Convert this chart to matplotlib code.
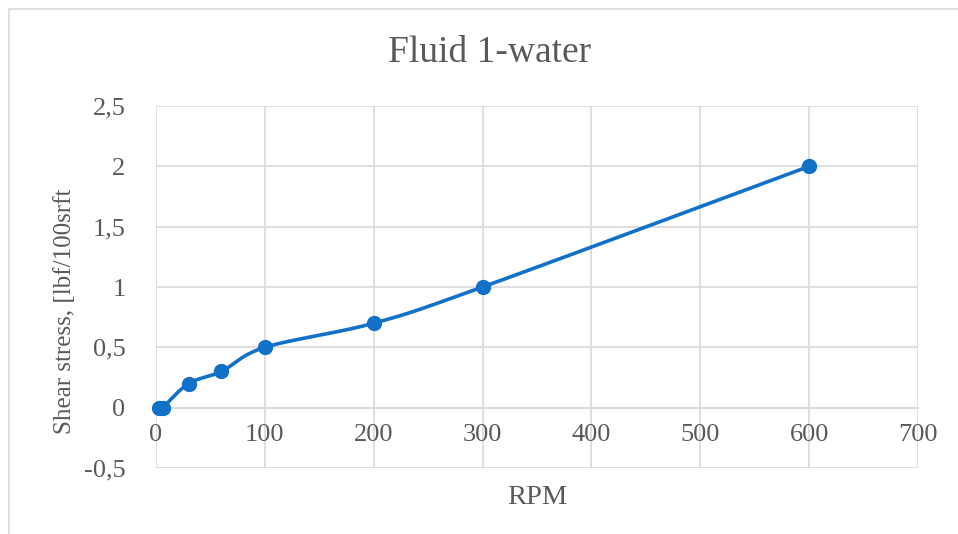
import numpy as np
import matplotlib
matplotlib.use("Agg")
import matplotlib.pyplot as plt
from matplotlib.patches import Rectangle
from matplotlib.ticker import FuncFormatter, MultipleLocator

# ─── DATA ─────────────────────────────────────────────────────────────────────

rpm          = [3, 6, 30, 60, 100, 200, 300, 600]
shear_stress = [0, 0, 0.2, 0.3, 0.5, 0.7, 1.0, 2.0]

TITLE  = "Fluid 1-water"
XLABEL = "RPM"
YLABEL = "Shear stress, [lbf/100srft"

# ─── STYLE ────────────────────────────────────────────────────────────────────

BLUE  = "#1170c8"
TEXT  = "#595959"
GRID  = "#d9d9d9"
plt.rcParams["font.family"] = ["Liberation Serif", "DejaVu Serif"]


def smooth_path(ax, xs, ys, n=40):
    """Excel-like smoothed line (Catmull-Rom in screen space)."""
    trans = ax.transData
    pts = trans.transform(np.column_stack([xs, ys]))
    out = [pts[0]]
    for i in range(len(pts) - 1):
        p0 = pts[i - 1] if i > 0 else pts[i]
        p1, p2 = pts[i], pts[i + 1]
        p3 = pts[i + 2] if i + 2 < len(pts) else pts[i + 1]
        c1 = p1 + (p2 - p0) / 6.0
        c2 = p2 - (p3 - p1) / 6.0
        t = np.linspace(0, 1, n)[1:, None]
        seg = ((1 - t) ** 3) * p1 + 3 * ((1 - t) ** 2) * t * c1 \
            + 3 * (1 - t) * t ** 2 * c2 + t ** 3 * p2
        out.extend(seg)
    out = np.array(out)
    return trans.inverted().transform(out)


fig = plt.figure(figsize=(9.58, 5.34), dpi=100)
ax = fig.add_axes([156 / 958, 66 / 534, 762 / 958, 362 / 534])

# chart frame
fig.patches.append(Rectangle((9 / 958, -0.1), 1.2, (534 - 9) / 534 + 0.1,
                             transform=fig.transFigure, fill=False,
                             edgecolor=GRID, linewidth=1.2))

ax.set_xlim(0, 700)
ax.set_ylim(-0.5, 2.5)
ax.xaxis.set_major_locator(MultipleLocator(100))
ax.yaxis.set_major_locator(MultipleLocator(0.5))
fmt = FuncFormatter(lambda v, p: "{:g}".format(round(v, 2)).replace(".", ","))
ax.xaxis.set_major_formatter(fmt)
ax.yaxis.set_major_formatter(fmt)

ax.grid(True, color=GRID, linewidth=1.2, zorder=0)
ax.set_axisbelow(True)
for s in ["top", "right", "left"]:
    ax.spines[s].set_visible(False)
ax.spines["bottom"].set_position(("data", 0))
ax.spines["bottom"].set_color(GRID)
ax.spines["bottom"].set_linewidth(1.2)
ax.tick_params(axis="both", length=0, labelsize=19, labelcolor=TEXT)
ax.tick_params(axis="x", pad=12)
ax.tick_params(axis="y", pad=22)

fig.canvas.draw()
line = smooth_path(ax, rpm, shear_stress)
ax.plot(line[:, 0], line[:, 1], color=BLUE, linewidth=2.6, zorder=3,
        solid_capstyle="round", clip_on=False)
ax.plot(rpm, shear_stress, "o", color=BLUE, markersize=10, zorder=4,
        clip_on=False)

fig.text(490 / 958, 1 - 53 / 534, TITLE, ha="center", va="center",
         fontsize=27, color=TEXT)
fig.text(537 / 958, 1 - 497 / 534, XLABEL, ha="center", va="center",
         fontsize=20.5, color=TEXT)
fig.text(65 / 958, 1 - 311 / 534, YLABEL, ha="center", va="center",
         rotation=90, fontsize=18, color=TEXT)

fig.savefig("out.png", dpi=100)
